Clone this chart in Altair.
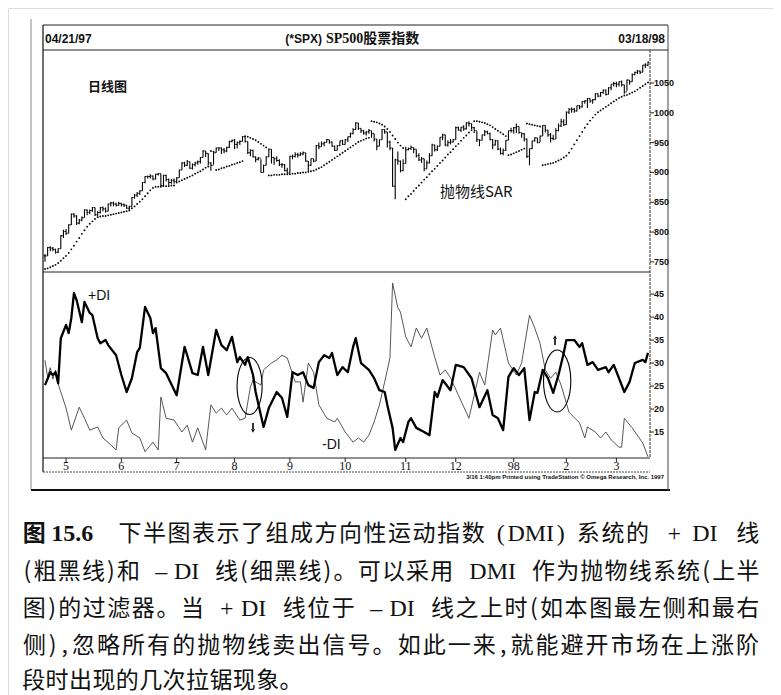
import altair as alt
import pandas as pd

# ---------------- data ----------------
close = [760,774,773,771,766,772,794,801,
         798,812,830,827,815,820,824,837,833,836,841,829,833,841,839,835,847,849,847,845,848,
         846,845,840,843,858,862,865,869,883,893,893,894,889,897,898,878,895,888,883,887,885,
         891,904,916,912,918,907,913,916,918,925,936,932,916,912,933,941,941,938,936,942,952,954,
         947,950,952,960,952,933,937,926,922,924,900,912,926,939,925,923,920,913,913,903,899,
         927,927,930,929,931,933,919,912,923,919,945,943,948,950,955,951,944,937,945,953,947,
         955,960,965,972,983,974,970,966,968,970,965,956,944,955,972,968,951,941,877,921,919,903,915,
         938,940,942,939,928,921,923,906,916,928,946,938,944,959,963,946,950,951,955,
         975,971,976,973,983,982,975,970,955,954,963,968,965,955,946,953,939,932,937,954,970,970,
         975,977,967,965,956,927,940,953,958,950,961,979,971,963,957,956,970,978,985,980,
         1001,1006,1006,1003,1012,1010,1019,1020,1024,1020,1022,1032,1028,1034,1038,1031,1042,1048,1049,
         1048,1052,1047,1035,1055,1052,1064,1068,1070,1068,1080,1080,1085]
high = [763,775,776,775,772,773,795,804,
        805,813,831,832,828,822,826,838,838,838,842,841,835,842,843,841,848,851,851,849,851,
        849,848,846,844,859,864,867,870,884,894,895,897,895,898,899,898,896,896,890,889,890,
        892,905,917,918,921,918,915,918,920,926,937,936,932,917,934,942,942,942,941,943,953,955,
        956,952,954,961,960,952,939,938,927,926,922,913,927,940,939,925,927,922,916,914,908,
        928,930,934,933,934,935,933,919,923,923,946,950,952,952,956,955,952,945,946,953,955,
        956,960,967,974,984,983,974,971,969,973,970,965,956,955,973,973,968,953,941,923,935,920,922,
        943,942,945,942,939,932,926,923,920,932,948,947,945,959,965,963,954,956,956,
        977,977,976,979,984,986,982,976,969,955,963,971,970,967,956,955,954,942,940,954,970,975,
        976,982,977,966,966,957,940,953,959,958,962,979,979,971,966,963,974,982,990,989,
        1002,1008,1009,1008,1012,1013,1020,1021,1025,1024,1023,1033,1033,1035,1039,1039,1043,1048,1052,
        1052,1053,1054,1047,1056,1055,1066,1069,1072,1071,1080,1083,1086]
low = [750,760,768,768,764,765,772,790,
       795,798,812,824,812,813,818,824,828,830,834,827,826,831,835,833,835,843,843,843,844,
       843,842,839,837,843,856,859,862,869,882,890,890,887,888,895,877,878,885,878,881,881,
       884,891,904,909,911,906,905,910,913,915,925,926,912,903,913,933,936,931,932,934,941,950,
       939,940,946,952,950,931,927,925,917,920,900,900,912,926,915,913,918,911,908,902,899,
       899,922,925,925,928,929,918,902,911,917,919,939,943,944,950,948,943,936,937,944,946,
       947,951,958,964,971,971,966,963,962,965,958,952,937,944,955,965,942,937,876,855,913,900,902,
       915,937,938,932,925,919,916,902,906,915,928,935,936,944,954,944,943,947,950,
       955,970,968,970,972,977,973,966,951,944,954,961,964,954,939,945,937,930,929,936,954,967,
       965,966,965,958,952,924,912,939,952,949,951,961,967,960,950,954,956,969,976,978,
       980,998,1000,1000,1002,1006,1009,1015,1008,1017,1015,1021,1026,1027,1032,1029,1031,1038,1044,
       1043,1044,1044,1032,1037,1047,1052,1063,1065,1065,1068,1075,1078]
sar = [738,739,741,743,745,748,752,756,760,765,771,777,784,790,797,803,809,814,818,822,825,
       826,827,827,828,829,830,831,832,833,834,835,836,
       840,843,847,851,855,860,865,870,874,876,
       876,876,877,877,877,878,878,
       883,885,887,889,891,893,895,898,900,902,905,908,910,
       936,935,
       904,905,907,908,910,911,913,914,916,917,919,
       961,960,958,956,954,951,948,945,942,
       895,895,896,896,896,897,897,897,897,898,898,899,
       899,900,900,901,902,903,905,907,
       909,912,915,918,921,924,927,930,933,936,939,942,945,948,951,953,955,957,958,
       986,985,984,982,980,977,973,968,962,956,950,945,941,
       855,860,864,869,874,878,883,888,892,897,902,906,911,916,920,925,930,934,939,944,948,953,958,962,967,971,
       986,986,985,984,983,981,979,976,973,970,967,964,961,
       929,930,932,934,936,938,940,
       982,981,980,979,978,977,
       912,913,914,915,916,918,920,922,925,928,933,940,947,954,961,968,975,981,987,992,997,1001,
       1004,1007,1010,1013,1016,1019,1022,1025,1027,1029,1030,1032,1034,1036,1039,1042,1045,1048,1051]

plus_di_day = [0,2,3,4,5,6,8,9,10,11,12,14,15,17,18,20,21,23,24,27,
               29,31,33,35,36,38,40,41,42,44,46,50,53,54,56,58,60,62,65,67,
               69,71,73,74,76,77,79,80,83,85,88,90,92,94,96,98,100,102,104,106,
               108,109,111,113,115,117,118,120,123,125,127,129,130,132,133,135,136,138,139,141,
               144,146,148,149,151,154,156,159,162,165,168,170,172,174,176,178,180,182,184,186,
               187,189,191,193,195,197,198,201,203,204,206,208,210,213,214,216,218,220,222,224,
               227,228,229]
plus_di = [25.2,28,27.4,28,25.6,35.4,38.3,36.5,39.8,45.2,43.7,38.9,43.3,40.9,40.4,35.4,34.3,35,33.9,31.7,
           27.4,23.7,26.7,32.4,33.3,42.2,39.8,36.5,37.6,28.9,27.8,23,33.5,31.7,27.8,27.4,33.5,27.4,37.2,33.9,
           32.8,35.7,30.2,31.3,29.6,31.3,27.4,23.7,16.1,20.2,23.7,22.4,18.3,28,27.4,28,25.2,24.6,30.2,31.7,
           31.1,32.2,27.4,29.1,28,33.5,35.4,30,28.5,26.7,24.1,23.7,20.9,15.9,11.1,13.7,12.8,17.2,18,15.9,
           15,14.3,23.7,22.6,26.3,24.1,29.6,29.1,26.7,20.4,24.1,18.7,18,15.4,27,28.9,27.4,28.9,17.6,23.7,
           23.5,28.5,26.7,23.5,27.4,32.2,35,35,33.5,34.3,29.6,30.2,28.5,29.1,28,29.6,26.7,23.7,25.9,30,
           30.7,30.2,32.2]
minus_di_day = [0,1,2,3,4,5,6,8,10,13,15,17,20,22,25,27,28,31,33,36,
                38,41,43,44,46,49,52,54,56,58,61,63,65,67,69,71,74,76,78,79,
                82,83,86,88,90,92,95,97,98,100,102,104,107,110,111,114,117,119,121,123,
                125,127,129,131,132,134,135,137,139,141,143,145,148,150,152,154,157,161,165,167,
                170,171,173,176,179,181,184,186,188,190,192,194,196,199,203,205,206,209,211,213,
                215,218,219,220,223,227,229]
minus_di = [30.6,27,29,26.5,28.5,25.5,23.7,20.2,15.4,20.4,18,15.4,16.1,13.7,12.2,11.1,15.9,17.6,14.8,13.7,
            10.7,12.8,11.1,22.6,18,17.6,15,16.5,12.8,15.9,11.1,20.9,19.1,20.2,18.7,20.2,17.6,18,24.8,26.3,
            25.2,28.5,30,30.7,31.7,31.1,25.9,25.9,21.5,30,28,20.9,18,17.2,18,15,12.8,13.7,12.8,14.3,
            17.2,20.9,25.9,31.1,47.4,42,41.1,35.7,33.5,37.6,35.4,37.6,31.3,27.4,28.5,26.8,23,18,28,25.2,
            37.2,36.1,37.6,30,27.4,30,40.4,37.6,34.3,28.5,26.7,28,25.2,19.3,17,13.7,16.1,15,13.7,15,
            13.3,11.7,11.7,18,15.9,12.6,9.6]

month_labels = ["5", "6", "7", "8", "9", "10", "11", "12", "98", "2", "3"]
month_days = [8, 29, 50, 72, 93, 114, 137, 156, 178, 198, 217]
price_ticks = [750, 800, 850, 900, 950, 1000, 1050]
di_ticks = [15, 20, 25, 30, 35, 40, 45]
circle_day = [77.7, 194.5]
circle_val = [25.0, 26.1]
circle_size = [3249, 3844]

CJK = "Noto Sans CJK SC"
SANS = "Liberation Sans"
SERIF = "Liberation Serif"

# caption, as (text, cell width, font, weight); "SP" = blank space
caption_lines = [
    [("图", 1, CJK, "bold"), ("SP", 0.2), ("15.6", 1.7, SERIF, "bold"), ("SP", 1.0),
     ("下半图表示了组成方向性运动指数", None),
     ("SP", 0.4), ("(", 0.45, SERIF), ("DMI", 2.0, SERIF), (")", 0.45, SERIF), ("SP", 0.4),
     ("系统的", None), ("SP", 0.7), ("+", 0.6, SERIF), ("SP", 0.4), ("DI", 1.1, SERIF), ("SP", 0.7), ("线", None)],
    [("(", 0.45), ("粗黑线", None), (")", 0.45), ("和", None), ("SP", 0.6), ("–", 0.5, SERIF), ("SP", 0.25),
     ("DI", 1.1, SERIF), ("SP", 0.6), ("线", None), ("(", 0.45), ("细黑线", None), (")", 0.45), ("。可以采用", None),
     ("SP", 0.6), ("DMI", 2.0, SERIF), ("SP", 0.6), ("作为抛物线系统", None), ("(", 0.45), ("上半", None)],
    [("图", None), (")", 0.45), ("的过滤器。当", None), ("SP", 0.6), ("+", 0.6, SERIF), ("SP", 0.25),
     ("DI", 1.1, SERIF), ("SP", 0.6), ("线位于", None), ("SP", 0.6), ("–", 0.5, SERIF), ("SP", 0.25),
     ("DI", 1.1, SERIF), ("SP", 0.6), ("线之上时", None), ("(", 0.45), ("如本图最左侧和最右", None)],
    [("侧", None), (")", 0.45), (",", 0.5), ("忽略所有的抛物线卖出信号。如此一来", None), (",", 0.5),
     ("就能避开市场在上涨阶", None)],
    [("段时出现的几次拉锯现象。", None)],
]
caption_y = [526, 563.5, 601, 638, 673]

# ---------------- build tables ----------------
N = len(close)
days = list(range(N))
opens = [close[0]] + close[:-1]
price_df = pd.DataFrame({"day": days, "open": opens, "high": high, "low": low,
                         "close": close, "sar": sar})
price_df["xl"] = price_df["day"] - 0.45
price_df["xr"] = price_df["day"] + 0.45
plus_df = pd.DataFrame({"day": plus_di_day, "v": plus_di})
minus_df = pd.DataFrame({"day": minus_di_day, "v": minus_di})
month_df = pd.DataFrame({"day": month_days, "lab": month_labels})
pt_df = pd.DataFrame({"v": price_ticks})
dt_df = pd.DataFrame({"v": di_ticks})
circ_df = pd.DataFrame({"day": circle_day, "v": circle_val, "s": circle_size})

XS = alt.Scale(domain=[0, 229], range=[37, 640], nice=False, zero=False)
YP = alt.Scale(domain=[733, 1102], range=[264, 44], nice=False, zero=False)
YD = alt.Scale(domain=[9.35, 49.8], range=[450, 264], nice=False, zero=False)


def X(f):
    return alt.X(f, scale=XS, axis=None)


# ---------------- upper panel ----------------
pb = alt.Chart(price_df)
hl = pb.mark_rule(color="black", strokeWidth=1.1).encode(
    x=X("day:Q"), y=alt.Y("low:Q", scale=YP, axis=None), y2="high:Q")
ct = pb.mark_rule(color="black", strokeWidth=1).encode(
    x=X("day:Q"), x2="xr:Q", y=alt.Y("close:Q", scale=YP, axis=None))
ot = pb.mark_rule(color="black", strokeWidth=1).encode(
    x=X("xl:Q"), x2="day:Q", y=alt.Y("open:Q", scale=YP, axis=None))
sar_pts = pb.mark_circle(size=3.5, color="black", opacity=1).encode(
    x=X("day:Q"), y=alt.Y("sar:Q", scale=YP, axis=None))
ptick = alt.Chart(pt_df).mark_rule(color="#222", strokeWidth=1).encode(
    x=alt.value(642), x2=alt.value(646), y=alt.Y("v:Q", scale=YP, axis=None))
plab = alt.Chart(pt_df).mark_text(align="left", baseline="middle", fontSize=9,
                                  fontWeight="bold", font=SANS, color="#111").encode(
    x=alt.value(646), y=alt.Y("v:Q", scale=YP, axis=None), text=alt.Text("v:Q"))
price_layer = alt.layer(hl, ct, ot, sar_pts, ptick, plab)

# ---------------- lower panel ----------------
ELL = ("M0,-1 C0.243,-1 0.44,-0.552 0.44,0 C0.44,0.552 0.243,1 0,1 "
       "C-0.243,1 -0.44,0.552 -0.44,0 C-0.44,-0.552 -0.243,-1 0,-1 Z")
mline = alt.Chart(minus_df).mark_line(color="#444", strokeWidth=0.9).encode(
    x=X("day:Q"), y=alt.Y("v:Q", scale=YD, axis=None))
pline = alt.Chart(plus_df).mark_line(color="black", strokeWidth=2.3, strokeJoin="round").encode(
    x=X("day:Q"), y=alt.Y("v:Q", scale=YD, axis=None))
ells = alt.Chart(circ_df).mark_point(shape=ELL, filled=False, color="black", strokeWidth=1.1,
                                     opacity=1).encode(
    x=X("day:Q"), y=alt.Y("v:Q", scale=YD, axis=None), size=alt.Size("s:Q", scale=None))
dtick = alt.Chart(dt_df).mark_rule(color="#222", strokeWidth=1).encode(
    x=alt.value(642), x2=alt.value(646), y=alt.Y("v:Q", scale=YD, axis=None))
dlab = alt.Chart(dt_df).mark_text(align="left", baseline="middle", fontSize=9,
                                  fontWeight="bold", font=SANS, color="#111").encode(
    x=alt.value(646), y=alt.Y("v:Q", scale=YD, axis=None), text=alt.Text("v:Q"))
mtick = alt.Chart(month_df).mark_rule(color="#222", strokeWidth=1).encode(
    x=X("day:Q"), y=alt.value(450), y2=alt.value(454))
mlab = alt.Chart(month_df).mark_text(baseline="middle", fontSize=12, font=SERIF,
                                     color="#111").encode(
    x=X("day:Q"), y=alt.value(458), text="lab:N")
di_layer = alt.layer(mline, pline, ells, dtick, dlab, mtick, mlab)

# ---------------- decorations ----------------
dummy = pd.DataFrame({"k": [0]})


def seg(x1, y1, x2, y2, w=1.0, c="#222", dash=None):
    kw = dict(color=c, strokeWidth=w)
    if dash:
        kw["strokeDash"] = dash
    return alt.Chart(dummy).mark_rule(**kw).encode(
        x=alt.value(x1), y=alt.value(y1), x2=alt.value(x2), y2=alt.value(y2))


def label(txt, x, y, size, font, weight="normal", align="left", color="#111"):
    return alt.Chart(dummy).mark_text(text=txt, fontSize=size, font=font, fontWeight=weight,
                                      align=align, baseline="middle", color=color).encode(
        x=alt.value(x), y=alt.value(y))


def tri(shape, x, y):
    return alt.Chart(dummy).mark_point(shape=shape, filled=True, size=16, color="black",
                                       opacity=1).encode(x=alt.value(x), y=alt.value(y))


deco = [
    seg(23, 11, 23, 482, 1, "#888"),
    seg(23, 482, 662, 482, 2.2, "#111"),
    seg(35, 17, 660, 17, 1.2),
    seg(35, 17, 35, 464, 1.3),
    seg(660, 17, 660, 482, 1, "#444"),
    seg(35, 464, 642, 464, 1, "#444", [2, 1]),
    seg(35, 42, 660, 42, 1.2),
    seg(35, 264, 642, 264, 1),
    seg(642, 42, 642, 450, 1, "#333", [3, 1]),
    seg(35, 450, 642, 450, 1),
    label("04/21/97", 37, 31, 12, SANS, "bold"),
    label("(*SPX)", 314, 31, 12, SANS, "bold", "right"),
    label("SP500股票指数", 318, 31, 14, SERIF + ", " + CJK, "bold"),
    label("03/18/98", 657, 31, 12, SANS, "bold", "right"),
    label("日线图", 80, 79, 13, CJK, "bold"),
    label("抛物线SAR", 432, 184, 15, CJK),
    label("+DI", 80, 288, 14, SANS),
    label("-DI", 314, 437, 14, SANS),
    seg(245, 415, 245, 421, 1.6, "black"),
    tri("triangle-down", 245, 423),
    seg(547, 331, 547, 337, 1.6, "black"),
    tri("triangle-up", 547, 329),
    label("3/16  1:40pm Printed using TradeStation © Omega Research, Inc. 1997",
          656, 469, 6, SANS, "bold", "right"),
]

# ---- caption: justified, one glyph per cell ----
NARROW = {"(": 0.45, ")": 0.45, ",": 0.5}
cap_rows = []
X0, X1 = 14, 752
for li, (toks, yy) in enumerate(zip(caption_lines, caption_y)):
    cells = []
    for tk in toks:
        txt = tk[0]
        if txt == "SP":
            cells.append((None, tk[1], None, None))
        elif tk[1] is None:
            for ch in txt:
                cells.append((ch, NARROW.get(ch, 1.0), CJK, "normal"))
        else:
            font = tk[2] if len(tk) > 2 else CJK
            weight = tk[3] if len(tk) > 3 else "normal"
            cells.append((txt, tk[1], font, weight))
    total = sum(c[1] for c in cells)
    pitch = (X1 - X0) / total if li < len(caption_lines) - 1 else 23.4
    pos = X0
    for t, w, f, wt in cells:
        if t is not None:
            cap_rows.append({"t": t, "x": pos + w * pitch / 2, "y": yy, "f": f, "w": wt})
        pos += w * pitch
cap_df = pd.DataFrame(cap_rows)

cap_layers = []
for (f, wt), grp in cap_df.groupby(["f", "w"]):
    size = 24 if f == SERIF else 23
    cap_layers.append(
        alt.Chart(grp.reset_index(drop=True)).mark_text(
            font=f, fontWeight=wt, fontSize=size, align="center", baseline="middle", color="#111"
        ).encode(
            x=alt.X("x:Q", scale=None, axis=None),
            y=alt.Y("y:Q", scale=None, axis=None),
            text="t:N",
        )
    )

chart = alt.layer(*deco, *cap_layers, price_layer, di_layer).resolve_scale(
    x="independent", y="independent"
).properties(
    width=765, height=687, padding=0, autosize=alt.AutoSizeParams(type="none")
).configure_view(strokeWidth=0).configure(background="white")

chart.save("out.html", embed_options={"renderer": "svg", "actions": False})
